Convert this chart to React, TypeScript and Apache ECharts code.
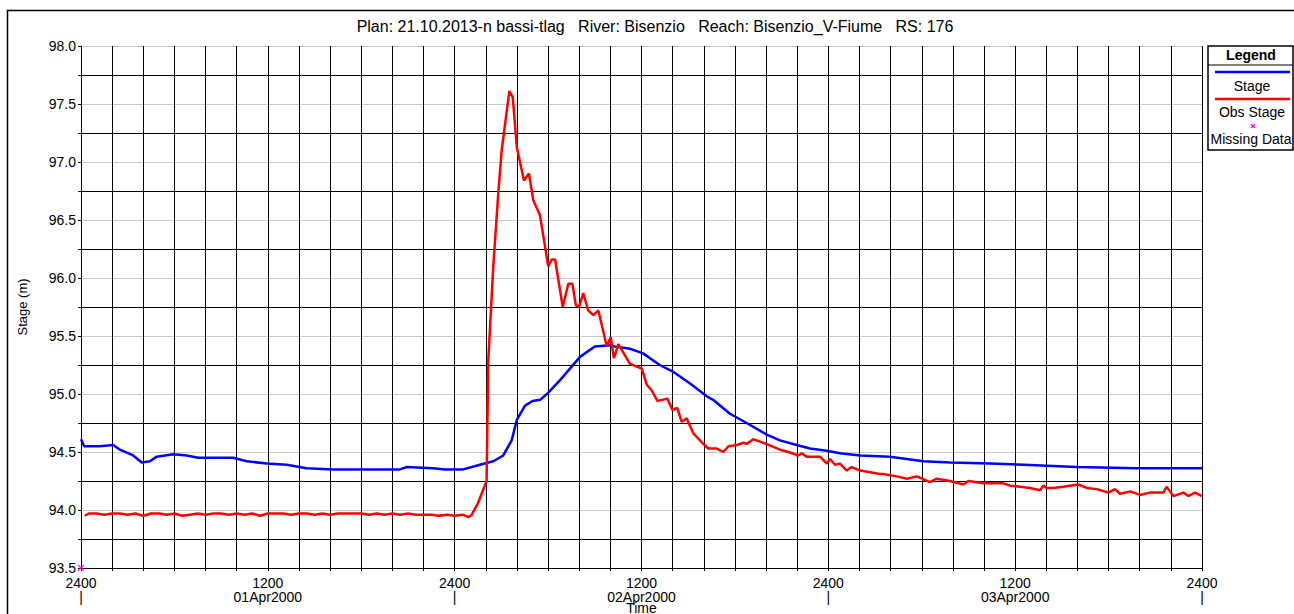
import React, { useEffect, useRef } from "react";
import * as echarts from "echarts";

const titleText = "Plan: 21.10.2013-n bassi-tlag   River: Bisenzio   Reach: Bisenzio_V-Fiume   RS: 176";
const dayLabels = ["01Apr2000", "02Apr2000", "03Apr2000"];

// Hours since 31Mar2000 2400
const stageT = [0, 0.2, 1.2, 2.07, 2.5, 3.35, 3.9, 4.43, 4.86, 5.93, 6.79, 7.53, 9.78, 10.64, 11.93, 13.21, 14.5, 16.2, 20.49, 20.9, 22.6, 23.4, 24.55, 25.63, 26.48, 27.12, 27.66, 28.0, 28.52, 29.0, 29.5, 30.0, 30.77, 32.05, 33.0, 34.0, 34.3, 35.26, 36.1, 37.17, 38.05, 39.12, 40.19, 40.6, 41.68, 42.75, 44.04, 44.89, 45.96, 46.82, 47.9, 48.75, 50.04, 51.96, 54.1, 55.82, 58.4, 60.53, 63.96, 67.8, 72];
const stageV = [94.61, 94.55, 94.55, 94.56, 94.52, 94.47, 94.41, 94.42, 94.46, 94.48, 94.47, 94.45, 94.45, 94.42, 94.40, 94.39, 94.36, 94.35, 94.35, 94.37, 94.36, 94.35, 94.35, 94.39, 94.42, 94.47, 94.60, 94.78, 94.90, 94.94, 94.95, 95.01, 95.12, 95.32, 95.41, 95.42, 95.41, 95.39, 95.35, 95.25, 95.19, 95.09, 94.98, 94.95, 94.83, 94.75, 94.65, 94.60, 94.56, 94.53, 94.51, 94.49, 94.47, 94.46, 94.42, 94.41, 94.40, 94.39, 94.37, 94.36, 94.36];

const obsT = [0.25, 0.5, 1, 1.5, 2, 2.5, 3, 3.5, 4, 4.5, 5, 5.5, 6, 6.5, 7, 7.5, 8, 8.5, 9, 9.5, 10, 10.5, 11, 11.5, 12, 12.5, 13, 13.5, 14, 14.5, 15, 15.5, 16, 16.5, 17, 17.5, 18, 18.5, 19, 19.5, 20, 20.5, 21, 21.5, 22, 22.5, 23, 23.5, 24, 24.5, 24.9, 25.1, 25.5, 26.05, 26.16, 26.48, 26.8, 27.02, 27.51, 27.73, 27.99, 28.45, 28.77, 29.05, 29.48, 30.01, 30.23, 30.45, 30.94, 31.3, 31.56, 31.79, 32.01, 32.26, 32.58, 32.91, 33.23, 33.77, 34.02, 34.23, 34.51, 35.26, 36.01, 36.34, 36.66, 37.02, 37.66, 38.0, 38.3, 38.58, 38.9, 39.33, 39.97, 40.29, 40.83, 41.26, 41.58, 42.12, 42.54, 42.76, 43.18, 43.61, 44.36, 44.9, 45.43, 46.07, 46.29, 46.61, 47.04, 47.47, 47.9, 48.11, 48.43, 48.75, 49.18, 49.5, 50.04, 51.32, 51.53, 52.39, 53.04, 53.68, 54.53, 54.96, 55.82, 56.67, 56.99, 57.95, 59.24, 59.67, 60.95, 61.6, 61.81, 62.03, 62.45, 63.09, 64.06, 64.6, 65.24, 65.98, 66.41, 66.73, 67.38, 68.02, 68.66, 69.52, 69.73, 70.16, 70.8, 71.12, 71.55, 72];
const obsV = [93.95, 93.97, 93.97, 93.96, 93.97, 93.97, 93.96, 93.97, 93.95, 93.97, 93.97, 93.96, 93.97, 93.95, 93.96, 93.97, 93.96, 93.97, 93.97, 93.96, 93.97, 93.96, 93.97, 93.95, 93.97, 93.97, 93.97, 93.96, 93.97, 93.97, 93.96, 93.97, 93.96, 93.97, 93.97, 93.97, 93.97, 93.96, 93.97, 93.96, 93.97, 93.96, 93.97, 93.96, 93.96, 93.96, 93.95, 93.96, 93.95, 93.96, 93.94, 93.96, 94.06, 94.25, 95.29, 96.10, 96.73, 97.10, 97.61, 97.56, 97.13, 96.84, 96.90, 96.67, 96.54, 96.10, 96.16, 96.16, 95.75, 95.95, 95.95, 95.76, 95.76, 95.87, 95.72, 95.68, 95.72, 95.41, 95.49, 95.31, 95.43, 95.26, 95.22, 95.08, 95.03, 94.94, 94.96, 94.86, 94.88, 94.76, 94.79, 94.66, 94.57, 94.53, 94.53, 94.50, 94.55, 94.56, 94.58, 94.57, 94.61, 94.59, 94.55, 94.52, 94.50, 94.47, 94.49, 94.46, 94.46, 94.46, 94.40, 94.44, 94.39, 94.40, 94.34, 94.37, 94.34, 94.31, 94.31, 94.29, 94.27, 94.29, 94.24, 94.27, 94.25, 94.22, 94.25, 94.23, 94.23, 94.21, 94.19, 94.17, 94.21, 94.19, 94.19, 94.20, 94.22, 94.19, 94.18, 94.15, 94.18, 94.14, 94.16, 94.13, 94.15, 94.15, 94.20, 94.12, 94.15, 94.12, 94.15, 94.12];

const missingT = [0];
const missingV = [93.5];

const FONT = "'Liberation Sans', Arial, sans-serif";

export default function App() {
  const ref = useRef<HTMLDivElement>(null);
  useEffect(() => {
    document.body.style.margin = "0";
    const chart = echarts.init(ref.current!, null, { renderer: "svg" });
    const stage = stageT.map((t, i) => [t, stageV[i]]);
    const obs = obsT.map((t, i) => [t, obsV[i]]);
    const miss = missingT.map((t, i) => [t, missingV[i]]);
    chart.setOption({
      animation: false,
      backgroundColor: "#ffffff",
      textStyle: { fontFamily: FONT },
      grid: { left: 81, right: 92, top: 46, bottom: 46, containLabel: false, outerBoundsMode: "none" },
      xAxis: {
        type: "value",
        min: 0,
        max: 72,
        interval: 2,
        name: "Time",
        nameLocation: "middle",
        nameGap: 33,
        nameMoveOverlap: false,
        nameTextStyle: { color: "#000", fontSize: 14, fontFamily: FONT },
        axisLine: { show: true, lineStyle: { color: "#000", width: 1 } },
        axisTick: { show: true, length: 3, lineStyle: { color: "#000" } },
        axisLabel: {
          color: "#000",
          fontSize: 14,
          fontFamily: FONT,
          margin: 8,
          lineHeight: 14,
          showMinLabel: true,
          showMaxLabel: true,
          formatter: (v: number) => {
            const h = Math.round(v);
            if (h % 24 === 0) return "2400\n|";
            if (h % 12 === 0) return "1200\n" + dayLabels[Math.floor(h / 24)];
            return "";
          },
        },
        splitLine: { show: true, lineStyle: { color: "#000", width: 1 } },
      },
      yAxis: {
        type: "value",
        min: 93.5,
        max: 98,
        interval: 0.25,
        name: "Stage (m)",
        nameLocation: "middle",
        nameGap: 52,
        nameMoveOverlap: false,
        nameTextStyle: { color: "#000", fontSize: 13, fontFamily: FONT },
        axisLine: { show: true, lineStyle: { color: "#000", width: 1 } },
        axisTick: { show: true, length: 3, lineStyle: { color: "#000" } },
        axisLabel: {
          color: "#000",
          fontSize: 14,
          fontFamily: FONT,
          margin: 5,
          formatter: (v: number) => {
            const d = v * 2;
            return Math.abs(d - Math.round(d)) < 1e-6 ? v.toFixed(1) : "";
          },
        },
        splitLine: { show: true, lineStyle: { color: ["#c8c8c8", "#000000"], width: 1 } },
      },
      series: [
        {
          type: "line",
          name: "Stage",
          data: stage,
          showSymbol: false,
          lineStyle: { color: "#0000ff", width: 2.5 },
          z: 3,
        },
        {
          type: "line",
          name: "Obs Stage",
          data: obs,
          showSymbol: false,
          lineStyle: { color: "#ff0000", width: 2.5 },
          z: 4,
        },
        {
          type: "scatter",
          name: "Missing Data",
          data: miss,
          clip: false,
          symbol: "path://M0 0L10 10M10 0L0 10",
          symbolSize: 6,
          itemStyle: { color: "rgba(0,0,0,0)", borderColor: "#ff00ff", borderWidth: 1.5 },
          z: 5,
        },
      ],
      graphic: [
        {
          type: "rect",
          shape: { x: 7.5, y: 10.5, width: 1400, height: 700 },
          style: { fill: "none", stroke: "#000", lineWidth: 1.5 },
          z: 10,
          silent: true,
        },
        {
          type: "text",
          x: 655,
          y: 26,
          style: { text: titleText, fill: "#000", font: `16px ${FONT}`, textAlign: "center", textVerticalAlign: "middle" },
          z: 10,
        },
        {
          type: "rect",
          shape: { x: 1208, y: 46, width: 85, height: 104 },
          style: { fill: "#fff", stroke: "#000", lineWidth: 1.5 },
          z: 10,
        },
        {
          type: "text",
          x: 1251,
          y: 55,
          style: { text: "Legend", fill: "#000", font: `bold 14px ${FONT}`, textAlign: "center", textVerticalAlign: "middle" },
          z: 11,
        },
        { type: "line", shape: { x1: 1208, y1: 65, x2: 1293, y2: 65 }, style: { stroke: "#000", lineWidth: 1.2 }, z: 11 },
        { type: "line", shape: { x1: 1215, y1: 72, x2: 1290, y2: 72 }, style: { stroke: "#0000ff", lineWidth: 2.5 }, z: 11 },
        {
          type: "text",
          x: 1252,
          y: 86,
          style: { text: "Stage", fill: "#000", font: `14px ${FONT}`, textAlign: "center", textVerticalAlign: "middle" },
          z: 11,
        },
        { type: "line", shape: { x1: 1215, y1: 99, x2: 1290, y2: 99 }, style: { stroke: "#ff0000", lineWidth: 2.5 }, z: 11 },
        {
          type: "text",
          x: 1252,
          y: 112,
          style: { text: "Obs Stage", fill: "#000", font: `14px ${FONT}`, textAlign: "center", textVerticalAlign: "middle" },
          z: 11,
        },
        { type: "line", shape: { x1: 1251, y1: 124, x2: 1255, y2: 128 }, style: { stroke: "#ff00ff", lineWidth: 1.3 }, z: 11 },
        { type: "line", shape: { x1: 1255, y1: 124, x2: 1251, y2: 128 }, style: { stroke: "#ff00ff", lineWidth: 1.3 }, z: 11 },
        {
          type: "text",
          x: 1251,
          y: 139,
          style: { text: "Missing Data", fill: "#000", font: `14px ${FONT}`, textAlign: "center", textVerticalAlign: "middle" },
          z: 11,
        },
      ],
    });
    return () => chart.dispose();
  }, []);
  return <div ref={ref} style={{ width: 1294, height: 614 }} />;
}
